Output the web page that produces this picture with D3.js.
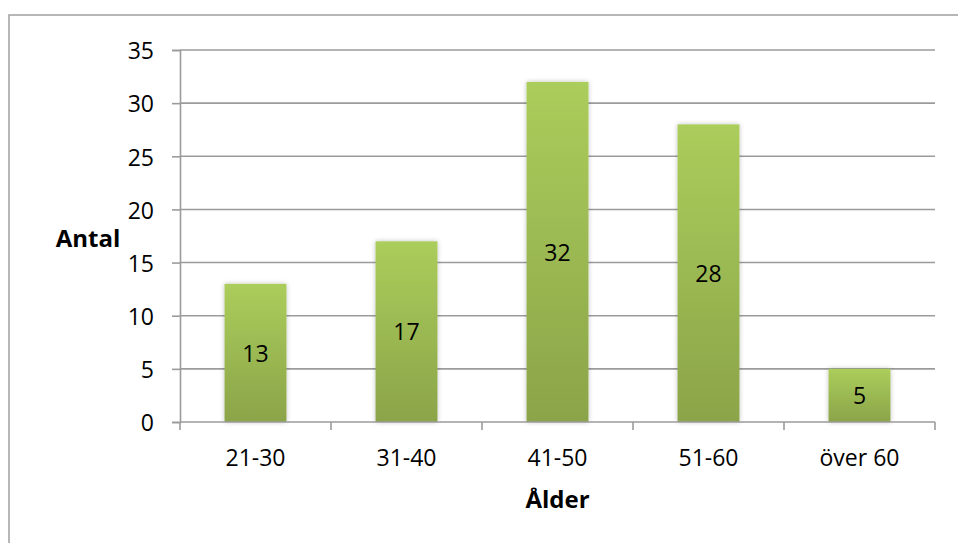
<!DOCTYPE html>
<html>
<head>
<meta charset="utf-8">
<script src="https://cdn.jsdelivr.net/npm/d3@7"></script>
<style>
  html, body { margin: 0; padding: 0; background: #fff; }
  svg { display: block; }
  text { font-family: "Open Sans", "Noto Sans", sans-serif; fill: #000; }
</style>
</head>
<body>
<svg id="chart" width="958" height="543"></svg>
<script>
// Age groups and number of respondents in each
const categories = ["21-30", "31-40", "41-50", "51-60", "över 60"];
const counts = [13, 17, 32, 28, 5];
const yTicks = [0, 5, 10, 15, 20, 25, 30, 35];
const yTitle = "Antal";
const xTitle = "Ålder";

const svg = d3.select("#chart");
const W = 958, H = 543;
const plot = { left: 180, right: 935, top: 50, bottom: 422 };
const fontSize = 23;

const x = d3.scaleBand()
  .domain(categories)
  .range([plot.left, plot.right])
  .paddingInner(0.59)
  .paddingOuter(0.295);

// band boundaries used for the category tick marks
const xb = d3.scaleBand().domain(categories).range([plot.left, plot.right]);

const y = d3.scaleLinear().domain([0, 35]).range([plot.bottom, plot.top]);

const gridColor = "#9b9b9b";
const defs = svg.append("defs");

const grad = defs.append("linearGradient")
  .attr("id", "barFill").attr("x1", 0).attr("y1", 0).attr("x2", 0).attr("y2", 1);
grad.append("stop").attr("offset", "0%").attr("stop-color", "#abcd5b");
grad.append("stop").attr("offset", "100%").attr("stop-color", "#8ba449");

const shadow = defs.append("filter").attr("id", "barShadow")
  .attr("x", "-20%").attr("y", "-10%").attr("width", "140%").attr("height", "120%");
shadow.append("feGaussianBlur").attr("in", "SourceAlpha").attr("stdDeviation", 2.5).attr("result", "b");
shadow.append("feComponentTransfer").attr("in", "b").attr("result", "s")
  .append("feFuncA").attr("type", "linear").attr("slope", 0.25);
const merge = shadow.append("feMerge");
merge.append("feMergeNode").attr("in", "s");
merge.append("feMergeNode").attr("in", "SourceGraphic");

// outer chart frame
svg.append("rect")
  .attr("x", 9).attr("y", 15).attr("width", W + 20).attr("height", H + 20)
  .attr("fill", "none").attr("stroke", "#a6a6a6").attr("stroke-width", 1.6);

// horizontal gridlines
svg.append("g")
  .selectAll("line")
  .data(yTicks.filter(d => d > 0))
  .join("line")
  .attr("x1", plot.left).attr("x2", plot.right)
  .attr("y1", d => y(d)).attr("y2", d => y(d))
  .attr("stroke", gridColor).attr("stroke-width", 1.6);

// y axis
const yAxis = svg.append("g")
  .attr("transform", `translate(${plot.left},0)`)
  .call(d3.axisLeft(y).tickValues(yTicks).tickSize(8).tickPadding(18));
yAxis.select(".domain").attr("stroke", gridColor).attr("stroke-width", 1.6);
yAxis.selectAll(".tick line").attr("stroke", gridColor).attr("stroke-width", 1.6);
yAxis.selectAll(".tick text")
  .attr("font-size", fontSize).attr("font-family", "Open Sans, sans-serif")
  .attr("fill", "#000").attr("dy", "0.38em");

// bars
svg.append("g")
  .selectAll("rect")
  .data(categories.map((c, i) => ({ c, v: counts[i] })))
  .join("rect")
  .attr("x", d => x(d.c))
  .attr("width", x.bandwidth())
  .attr("y", d => y(d.v))
  .attr("height", d => y(0) - y(d.v))
  .attr("fill", "url(#barFill)")
  .attr("filter", "url(#barShadow)");

// x axis line and category boundary ticks
svg.append("line")
  .attr("x1", plot.left).attr("x2", plot.right)
  .attr("y1", y(0)).attr("y2", y(0))
  .attr("stroke", gridColor).attr("stroke-width", 1.6);
const bounds = categories.map(c => xb(c)).concat([plot.right]);
svg.append("g").selectAll("line")
  .data(bounds)
  .join("line")
  .attr("x1", d => d).attr("x2", d => d)
  .attr("y1", y(0)).attr("y2", y(0) + 8)
  .attr("stroke", gridColor).attr("stroke-width", 1.6);

// category labels
svg.append("g").selectAll("text")
  .data(categories)
  .join("text")
  .attr("x", d => x(d) + x.bandwidth() / 2)
  .attr("y", 466)
  .attr("text-anchor", "middle")
  .attr("font-size", fontSize)
  .text(d => d);

// value labels, centred in each bar
svg.append("g").selectAll("text")
  .data(categories.map((c, i) => ({ c, v: counts[i] })))
  .join("text")
  .attr("x", d => x(d.c) + x.bandwidth() / 2)
  .attr("y", d => (y(d.v) + y(0)) / 2)
  .attr("dy", "0.38em")
  .attr("text-anchor", "middle")
  .attr("font-size", fontSize)
  .text(d => d.v);

// axis titles
svg.append("text")
  .attr("x", 88).attr("y", 247)
  .attr("text-anchor", "middle")
  .attr("font-size", 24).attr("font-weight", "bold")
  .text(yTitle);

svg.append("text")
  .attr("x", (plot.left + plot.right) / 2).attr("y", 508)
  .attr("text-anchor", "middle")
  .attr("font-size", 24).attr("font-weight", "bold")
  .text(xTitle);
</script>
</body>
</html>
